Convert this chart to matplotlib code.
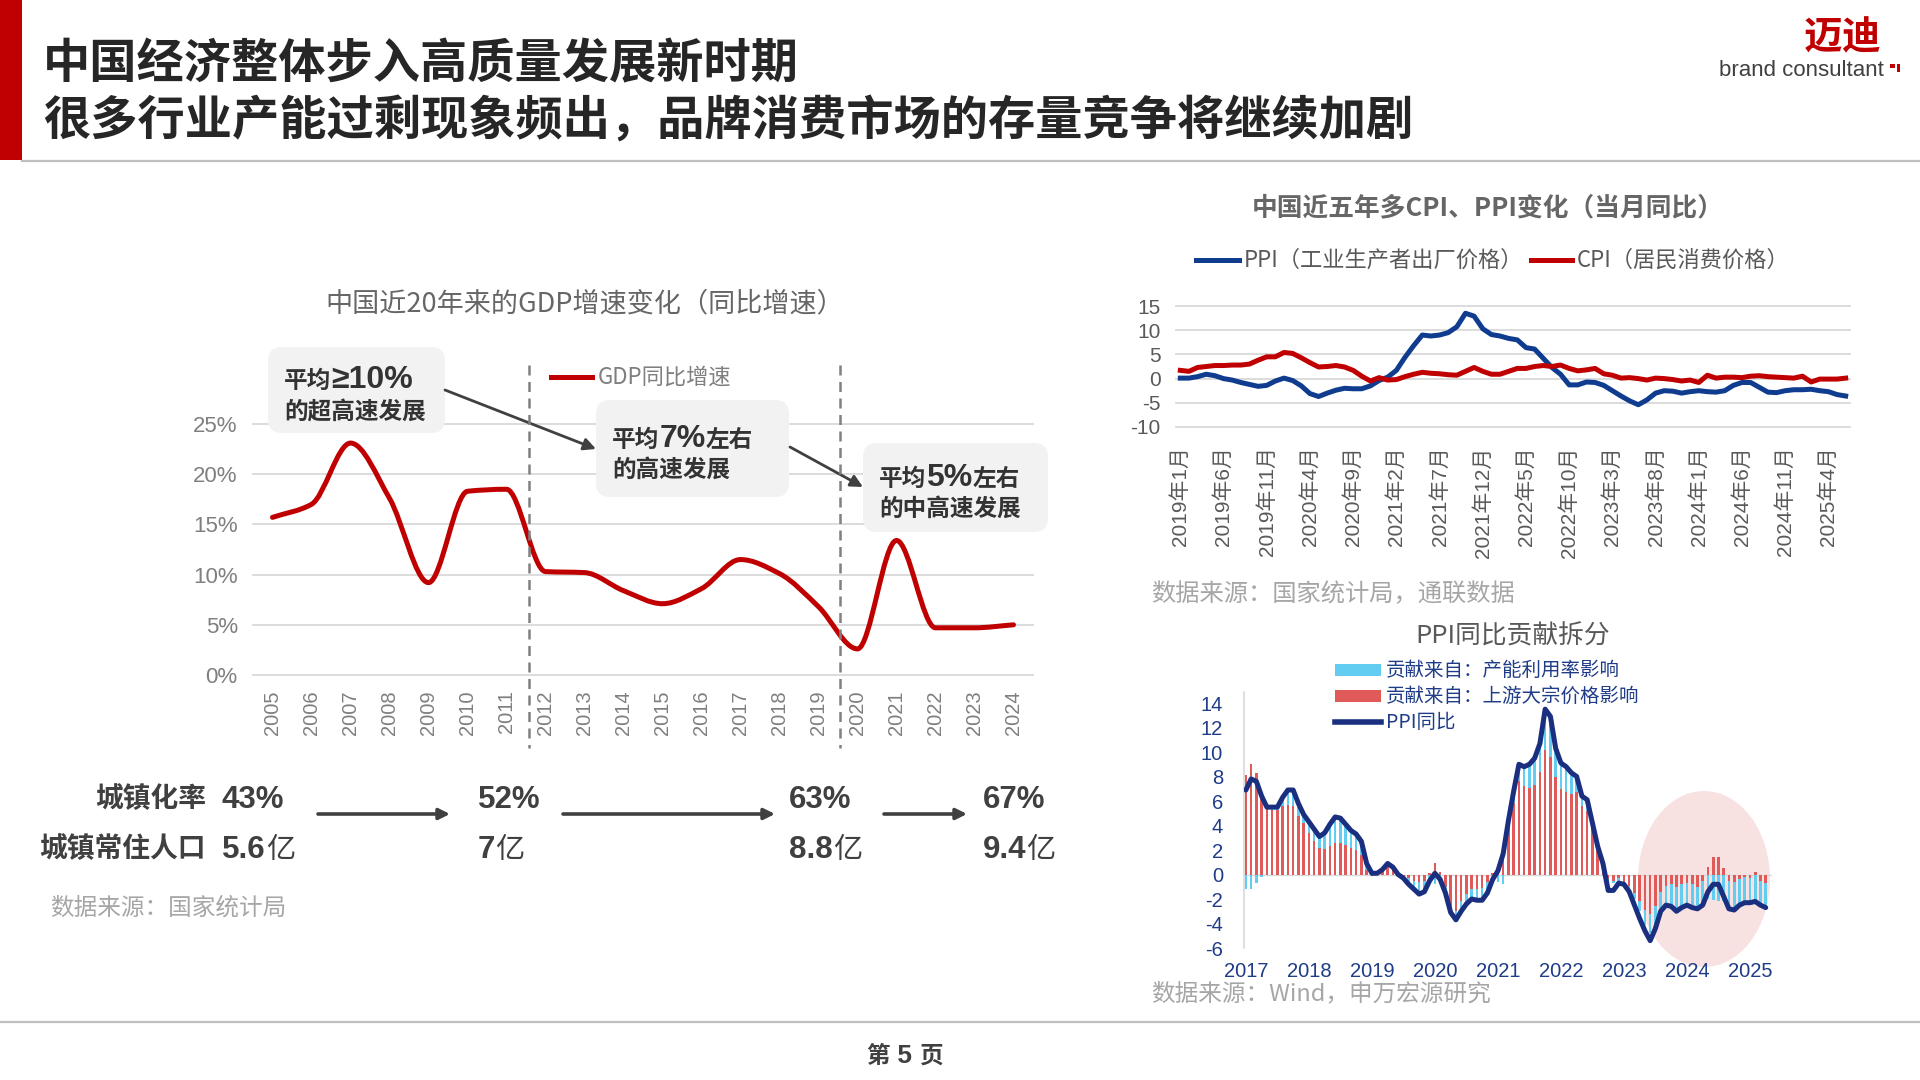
import matplotlib
matplotlib.use('Agg')
import matplotlib.pyplot as plt
import numpy as np
from matplotlib import font_manager
from matplotlib.transforms import Affine2D
from matplotlib.patches import FancyBboxPatch, FancyArrowPatch, Ellipse, Rectangle, PathPatch
from matplotlib.path import Path
from matplotlib.lines import Line2D

CJK = 'Noto Sans CJK SC'
plt.rcParams['font.family'] = [CJK, 'DejaVu Sans']
avail = {f.name for f in font_manager.fontManager.ttflist}
NARROW = 'Liberation Sans Narrow' if 'Liberation Sans Narrow' in avail else 'Liberation Sans'
ARIAL = 'Liberation Sans'

# ---------------- data ----------------
gdp_years = ['2005', '2006', '2007', '2008', '2009', '2010', '2011', '2012', '2013', '2014',
             '2015', '2016', '2017', '2018', '2019', '2020', '2021', '2022', '2023', '2024']
gdp_growth = [15.7, 17.0, 23.1, 17.6, 9.2, 18.3, 18.5, 10.3, 10.2, 8.4,
              7.1, 8.6, 11.5, 10.1, 6.8, 2.6, 13.4, 4.7, 4.7, 5.0]
gdp_yticks = [0, 5, 10, 15, 20, 25]

urban_rate = ['43%', '52%', '63%', '67%']
urban_pop = ['5.6', '7', '8.8', '9.4']

# monthly 2019-01 .. 2025-06
ppi_monthly = [0.1, 0.1, 0.4, 0.9, 0.6, 0.0, -0.3, -0.8, -1.2, -1.6, -1.4, -0.5,
               0.1, -0.4, -1.5, -3.1, -3.7, -3.0, -2.4, -2.0, -2.1, -2.1, -1.5, -0.4,
               0.3, 1.7, 4.4, 6.8, 9.0, 8.8, 9.0, 9.5, 10.7, 13.5, 12.9, 10.3,
               9.1, 8.8, 8.3, 8.0, 6.4, 6.1, 4.2, 2.3, 0.9, -1.3, -1.3, -0.7,
               -0.8, -1.4, -2.5, -3.6, -4.6, -5.4, -4.4, -3.0, -2.5, -2.6, -3.0, -2.7,
               -2.5, -2.7, -2.8, -2.5, -1.4, -0.8, -0.8, -1.8, -2.8, -2.9, -2.5, -2.3,
               -2.3, -2.2, -2.5, -2.7, -3.3, -3.6]
cpi_monthly = [1.7, 1.5, 2.3, 2.5, 2.7, 2.7, 2.8, 2.8, 3.0, 3.8, 4.5, 4.5,
               5.4, 5.2, 4.3, 3.3, 2.4, 2.5, 2.7, 2.4, 1.7, 0.5, -0.5, 0.2,
               -0.3, -0.2, 0.4, 0.9, 1.3, 1.1, 1.0, 0.8, 0.7, 1.5, 2.3, 1.5,
               0.9, 0.9, 1.5, 2.1, 2.1, 2.5, 2.7, 2.5, 2.8, 2.1, 1.6, 1.8,
               2.1, 1.0, 0.7, 0.1, 0.2, 0.0, -0.3, 0.1, 0.0, -0.2, -0.5, -0.3,
               -0.8, 0.7, 0.1, 0.3, 0.3, 0.2, 0.5, 0.6, 0.4, 0.3, 0.2, 0.1,
               0.5, -0.7, -0.1, -0.1, -0.1, 0.1]
month_tick_pos = [0, 5, 10, 15, 20, 25, 30, 35, 40, 45, 50, 55, 60, 65, 70, 75]
month_tick_labels = ['2019年1月', '2019年6月', '2019年11月', '2020年4月', '2020年9月', '2021年2月',
                     '2021年7月', '2021年12月', '2022年5月', '2022年10月', '2023年3月', '2023年8月',
                     '2024年1月', '2024年6月', '2024年11月', '2025年4月']
cp_yticks = [-10, -5, 0, 5, 10, 15]

# decomposition, monthly 2017-01 .. 2025-04
dec_ppi = [6.9, 7.8, 7.6, 6.4, 5.5, 5.5, 5.5, 6.3, 6.9, 6.9, 5.8, 4.9,
           4.3, 3.7, 3.1, 3.4, 4.1, 4.7, 4.6, 4.1, 3.6, 3.3, 2.7, 0.9,
           0.1, 0.1, 0.4, 0.9, 0.6, 0.0, -0.3, -0.8, -1.2, -1.6, -1.4, -0.5,
           0.1, -0.4, -1.5, -3.1, -3.7, -3.0, -2.4, -2.0, -2.1, -2.1, -1.5, -0.4,
           0.3, 1.7, 4.4, 6.8, 9.0, 8.8, 9.0, 9.5, 10.7, 13.5, 12.9, 10.3,
           9.1, 8.8, 8.3, 8.0, 6.4, 6.1, 4.2, 2.3, 0.9, -1.3, -1.3, -0.7,
           -0.8, -1.4, -2.5, -3.6, -4.6, -5.4, -4.4, -3.0, -2.5, -2.6, -3.0, -2.7,
           -2.5, -2.7, -2.8, -2.5, -1.4, -0.8, -0.8, -1.8, -2.8, -2.9, -2.5, -2.3,
           -2.3, -2.2, -2.5, -2.7]
dec_upstream = [8.1, 9.0, 8.3, 6.6, 5.5, 5.3, 5.3, 5.6, 5.7, 5.6, 4.8, 4.2,
                3.4, 2.7, 2.2, 2.1, 2.3, 2.6, 2.6, 2.4, 2.2, 2.0, 1.6, 0.4,
                -0.1, 0.1, 0.3, 0.7, 0.5, 0.1, -0.1, -0.3, -0.5, -0.6, -0.5, 0.1,
                0.9, 0.2, -1.0, -2.6, -3.0, -2.2, -1.6, -1.2, -1.2, -1.1, -0.6, 0.1,
                0.6, 1.5, 3.8, 5.8, 7.6, 7.2, 7.1, 7.3, 8.4, 10.2, 9.6, 8.0,
                7.0, 6.7, 6.6, 6.7, 5.6, 5.2, 3.9, 2.2, 0.8, -0.4, -0.5, -0.3,
                -0.6, -0.9, -1.5, -2.2, -2.9, -3.2, -2.6, -1.4, -0.9, -0.8, -1.0, -0.8,
                -0.7, -0.8, -1.0, -0.5, 0.6, 1.4, 1.4, 0.5, -0.5, -0.6, -0.4, -0.2,
                -0.3, 0.2, -0.5, -0.7]
dec_capacity = [-1.2, -1.2, -0.7, -0.2, 0.0, 0.2, 0.2, 0.7, 1.2, 1.3, 1.0, 0.7,
                0.9, 1.0, 0.9, 1.3, 1.8, 2.1, 2.0, 1.7, 1.4, 1.3, 1.1, 0.5,
                0.2, 0.0, 0.1, 0.2, 0.1, -0.1, -0.2, -0.5, -0.7, -1.0, -0.9, -0.6,
                -0.8, -0.6, -0.5, -0.5, -0.7, -0.8, -0.8, -0.8, -0.9, -1.0, -0.9, -0.5,
                -0.6, -0.8, 0.6, 1.0, 1.4, 1.6, 1.9, 2.2, 2.3, 3.3, 3.3, 2.3,
                2.1, 2.1, 1.7, 1.3, 0.8, 0.9, 0.3, 0.1, 0.1, -0.3, -0.2, -0.2,
                -0.3, -0.4, -0.5, -0.8, -1.2, -1.6, -1.7, -1.5, -1.6, -1.7, -1.8, -1.8,
                -1.8, -1.9, -1.8, -1.9, -2.0, -2.1, -2.2, -2.2, -2.3, -2.2, -2.1, -2.1,
                -2.0, -2.3, -2.1, -2.0]
dec_years = [2017, 2018, 2019, 2020, 2021, 2022, 2023, 2024, 2025]
dec_yticks = [-6, -4, -2, 0, 2, 4, 6, 8, 10, 12, 14]

# ---------------- figure ----------------
fig = plt.figure(figsize=(19.2, 10.8), dpi=100)
fig.patch.set_facecolor('white')
PX = Affine2D().scale(0.01, -0.01).translate(0, 10.8) + fig.dpi_scale_trans
renderer = fig.canvas.get_renderer()


def T(x, y, s, **kw):
    return fig.text(x, y, s, transform=PX, **kw)


def rich(x, y, parts, va='baseline'):
    for s, kw in parts:
        t = T(x, y, s, ha='left', va=va, **kw)
        bb = t.get_window_extent(renderer=renderer)
        x += bb.width * 100.0 / fig.dpi
    return x


def add_ax(l, t, r, b):
    return fig.add_axes([l / 1920, 1 - b / 1080, (r - l) / 1920, (b - t) / 1080])


# ---------------- header ----------------
fig.add_artist(Rectangle((0, 0), 22, 160, transform=PX, color='#c00000', lw=0))
fig.add_artist(Line2D([22, 1920], [161, 161], transform=PX, color='#bfbfbf', lw=1.6))
T(43, 64, '中国经济整体步入高质量发展新时期', fontsize=34, weight='bold', color='#262626', va='center')
T(43, 121, '很多行业产能过剩现象频出，品牌消费市场的存量竞争将继续加剧', fontsize=34, weight='bold',
  color='#262626', va='center')
T(1843, 38, '迈迪', fontsize=28, weight='bold', color='#c00000', ha='center', va='center')
T(1884, 70, 'brand consultant', fontsize=16, color='#404040', ha='right', va='center', family=NARROW)
fig.add_artist(Rectangle((1890, 64), 5, 4, transform=PX, color='#c00000', lw=0))
fig.add_artist(Rectangle((1897, 64), 3, 8, transform=PX, color='#c00000', lw=0))

# footer
fig.add_artist(Line2D([0, 1920], [1022, 1022], transform=PX, color='#bfbfbf', lw=1.6))
rich(866, 1063, [('第', dict(fontsize=17, weight='bold', color='#404040')),
                 (' 5 ', dict(fontsize=19, weight='bold', color='#404040', family=ARIAL)),
                 ('页', dict(fontsize=17, weight='bold', color='#404040'))])

# ---------------- GDP chart ----------------
T(585, 304, '中国近20年来的GDP增速变化（同比增速）', fontsize=19.5, color='#666666', ha='center', va='center')
ax1 = add_ax(253, 424, 1033, 675)
xs = np.arange(len(gdp_growth), dtype=float)
ax1.set_xlim(-0.5, len(gdp_growth) - 0.5)
ax1.set_ylim(0, 25)
ax1.set_yticks(gdp_yticks)
ax1.set_yticklabels([f'{v}%' for v in gdp_yticks], family=NARROW, fontsize=16, color='#7f7f7f')
ax1.set_xticks(xs)
ax1.set_xticklabels(gdp_years, rotation=90, family=ARIAL, fontsize=14.5, color='#7f7f7f')
ax1.tick_params(axis='both', length=0)
ax1.tick_params(axis='y', pad=11)
ax1.tick_params(axis='x', pad=11)
for s in ax1.spines.values():
    s.set_visible(False)
for v in gdp_yticks:
    ax1.axhline(v, color='#d9d9d9', lw=1.3, zorder=1, clip_on=False)


def smooth_path(x, y):
    """Monotone cubic (Fritsch-Carlson) Bezier curve through the data points."""
    x = np.asarray(x, float)
    y = np.asarray(y, float)
    n = len(x)
    h = np.diff(x)
    d = np.diff(y) / h
    m = np.zeros(n)
    m[0], m[-1] = d[0], d[-1]
    for k in range(1, n - 1):
        if d[k - 1] * d[k] > 0:
            m[k] = 2.0 / (1.0 / d[k - 1] + 1.0 / d[k])
    verts = [(x[0], y[0])]
    codes = [Path.MOVETO]
    for k in range(n - 1):
        verts += [(x[k] + h[k] / 3, y[k] + m[k] * h[k] / 3),
                  (x[k + 1] - h[k] / 3, y[k + 1] - m[k + 1] * h[k] / 3),
                  (x[k + 1], y[k + 1])]
        codes += [Path.CURVE4] * 3
    return Path(verts, codes)


ax1.add_patch(PathPatch(smooth_path(xs, gdp_growth), fill=False, ec='#c00000', lw=3.6,
                        capstyle='round', joinstyle='round', zorder=3))

for xd in (529, 840):
    fig.add_artist(Line2D([xd, xd], [365, 748], transform=PX, color='#808080', lw=1.8,
                          ls=(0, (4, 2.6))))
fig.add_artist(Line2D([551, 592], [377, 377], transform=PX, color='#c00000', lw=3.6))
T(598, 377, 'GDP同比增速', fontsize=16, color='#7f7f7f', va='center')

boxes = [(268, 347, 445, 433), (596, 400, 789, 497), (863, 443, 1048, 532)]
for (l, t, r, b) in boxes:
    fig.add_artist(FancyBboxPatch((l + 10, t + 10), r - l - 20, b - t - 20, transform=PX,
                                  boxstyle='round,pad=10,rounding_size=14', fc='#f2f2f2', ec='none'))
TXT = '#333333'
small = dict(fontsize=17, weight='bold', color=TXT)
big = dict(fontsize=23, weight='bold', color=TXT, family=[NARROW, CJK])
rich(284, 388, [('平均', small), ('≥10%', big)])
rich(284, 419, [('的超高速发展', small)])
rich(612, 447, [('平均', small), ('7%', big), ('左右', small)])
rich(612, 477, [('的高速发展', small)])
rich(879, 486, [('平均', small), ('5%', big), ('左右', small)])
rich(879, 516, [('的中高速发展', small)])
for (a, b) in [((445, 390), (596, 449)), ((790, 447), (863, 487))]:
    fig.add_artist(FancyArrowPatch(a, b, transform=PX, arrowstyle='-|>', mutation_scale=18,
                                   color='#404040', lw=2.0, shrinkA=0, shrinkB=0))

# urbanisation rows
DK = '#404040'
T(206, 799, '城镇化率', fontsize=20, weight='bold', color=DK, ha='right', va='center')
T(206, 849, '城镇常住人口', fontsize=20, weight='bold', color=DK, ha='right', va='center')
for xv, r, p in zip([222, 478, 789, 983], urban_rate, urban_pop):
    rich(xv, 808, [(r, dict(fontsize=22.5, weight='bold', color=DK, family=[ARIAL, CJK]))])
    rich(xv, 858, [(p, dict(fontsize=22.5, weight='bold', color=DK, family=[ARIAL, CJK])),
                   ('亿', dict(fontsize=21, color=DK))])
for (a, b) in [(318, 450), (563, 775), (884, 967)]:
    fig.add_artist(FancyArrowPatch((a, 814), (b, 814), transform=PX, arrowstyle='-|>',
                                   mutation_scale=16, color=DK, lw=2.6, shrinkA=0, shrinkB=0))
T(50, 908, '数据来源：国家统计局', fontsize=17, color='#a6a6a6', va='center')

# ---------------- CPI / PPI chart ----------------
NAVY = '#0f3c8f'
T(1488, 208, '中国近五年多CPI、PPI变化（当月同比）', fontsize=18.5, weight='bold', color='#666666',
  ha='center', va='center')
fig.add_artist(Line2D([1196, 1239], [260, 260], transform=PX, color=NAVY, lw=3.6))
T(1244, 260, 'PPI（工业生产者出厂价格）', fontsize=16, color='#595959', va='center')
fig.add_artist(Line2D([1531, 1572], [260, 260], transform=PX, color='#c00000', lw=3.6))
T(1577, 260, 'CPI（居民消费价格）', fontsize=16, color='#595959', va='center')

ax2 = add_ax(1176, 306, 1850, 427)
mx = np.arange(len(ppi_monthly))
ax2.set_xlim(-0.5, len(ppi_monthly) - 0.5)
ax2.set_ylim(-10, 15)
ax2.set_yticks(cp_yticks)
ax2.set_yticklabels([str(v) for v in cp_yticks], family=NARROW, fontsize=15, color='#595959')
ax2.set_xticks(month_tick_pos)
ax2.set_xticklabels(month_tick_labels, rotation=90, family=[ARIAL, CJK], fontsize=15, color='#595959')
ax2.tick_params(axis='both', length=0)
ax2.tick_params(axis='y', pad=11)
ax2.tick_params(axis='x', pad=14)
for s in ax2.spines.values():
    s.set_visible(False)
for v in cp_yticks:
    ax2.axhline(v, color='#d9d9d9', lw=1.3, zorder=1, clip_on=False)
ax2.plot(mx, ppi_monthly, color=NAVY, lw=3.6, zorder=3, solid_joinstyle='round')
ax2.plot(mx, cpi_monthly, color='#c00000', lw=3.6, zorder=4, solid_joinstyle='round')
T(1151, 594, '数据来源：国家统计局，通联数据', fontsize=17.5, color='#a6a6a6', va='center')

# ---------------- PPI decomposition ----------------
DN = '#1f3c88'
T(1513, 636, 'PPI同比贡献拆分', fontsize=18.5, color='#595959', ha='center', va='center')
fig.add_artist(Rectangle((1335, 664), 46, 12, transform=PX, color='#62cdf0', lw=0))
fig.add_artist(Rectangle((1335, 690), 46, 12, transform=PX, color='#e15a5a', lw=0))
fig.add_artist(Line2D([1335, 1381], [722, 722], transform=PX, color='#1a2f80', lw=4))
T(1386, 670, '贡献来自：产能利用率影响', fontsize=14, color=DN, va='center')
T(1386, 696, '贡献来自：上游大宗价格影响', fontsize=14, color=DN, va='center')
T(1386, 722, 'PPI同比', fontsize=14, color=DN, va='center')

ell = Ellipse((1704, 879), 132, 176, transform=PX, fc='#f5d8d8', ec='none', alpha=0.75, zorder=1)
fig.add_artist(ell)

ax3 = add_ax(1244, 692, 1772, 948)
ax3.set_zorder(2)
ax3.patch.set_alpha(0)
dx = np.array([2017 + i / 12.0 for i in range(len(dec_ppi))])
ax3.set_xlim(2016.97, 2025.35)
ax3.set_ylim(-6, 14.9)
ax3.set_yticks(dec_yticks)
ax3.set_yticklabels([str(v) for v in dec_yticks], family=ARIAL, fontsize=14.5, color=DN)
ax3.set_xticks(dec_years)
ax3.set_xticklabels([str(v) for v in dec_years], family=ARIAL, fontsize=14.5, color=DN)
ax3.tick_params(axis='both', length=0)
ax3.tick_params(axis='y', pad=15)
ax3.tick_params(axis='x', pad=10)
for k in ('top', 'right', 'bottom'):
    ax3.spines[k].set_visible(False)
ax3.spines['left'].set_color('#d9d9d9')
ax3.spines['left'].set_linewidth(1.2)
ax3.axhline(0, color='#d9d9d9', lw=1.0, zorder=1)
red = np.array(dec_upstream)
blue = np.array(dec_capacity)
blue_bottom = np.where(np.sign(blue) == np.sign(red), red, 0.0)
bw = 0.5 / 12
ax3.bar(dx, red, width=bw, color='#e15a5a', lw=0, zorder=2)
ax3.bar(dx, blue, bottom=blue_bottom, width=bw, color='#62cdf0', lw=0, zorder=2)
ax3.plot(dx, dec_ppi, color='#1a2f80', lw=3.6, zorder=4, solid_joinstyle='round', solid_capstyle='round')
T(1151, 994, '数据来源：Wind，申万宏源研究', fontsize=17, color='#a6a6a6', va='center')

fig.savefig('out.png', dpi=100, facecolor='white')
